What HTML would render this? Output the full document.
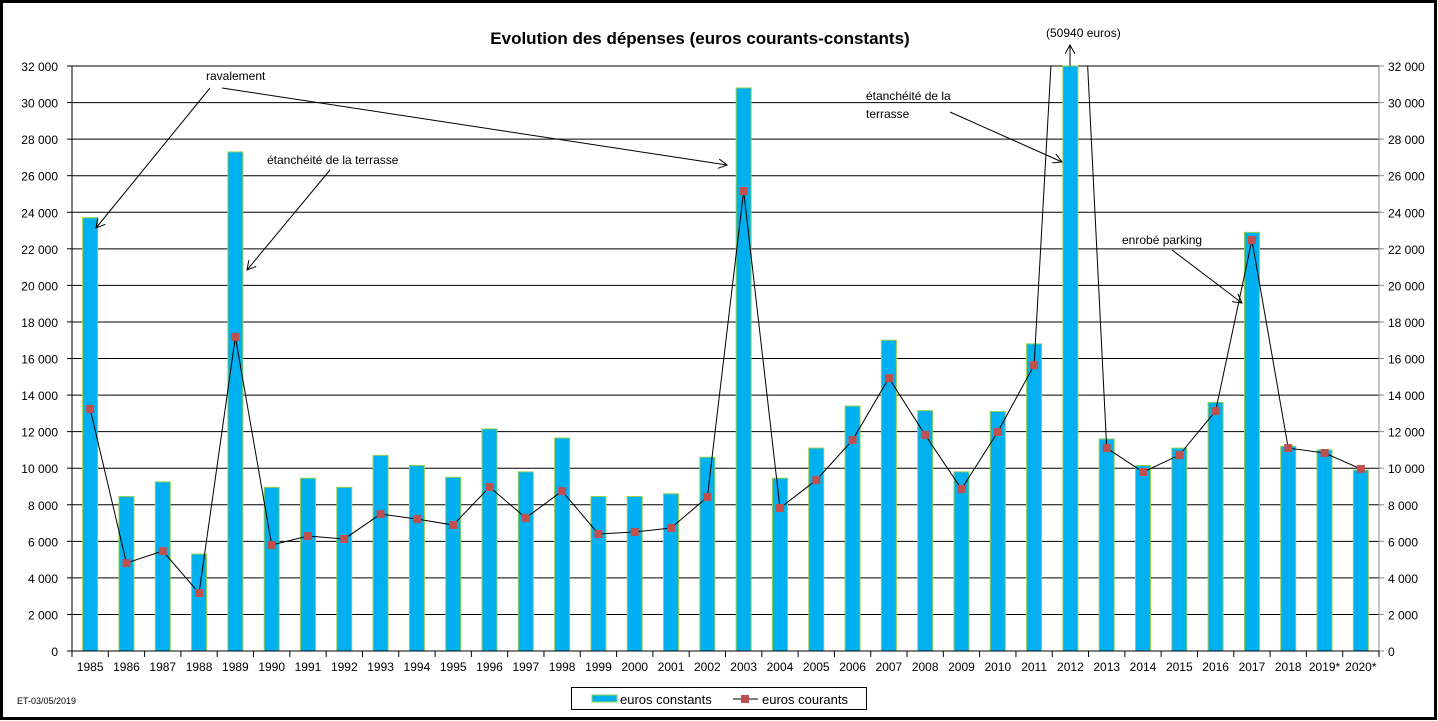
<!DOCTYPE html><html><head><meta charset="utf-8"><style>body{margin:0;background:#fff}svg{display:block;font-family:"Liberation Sans",sans-serif}</style></head><body>
<svg id="s" width="1438" height="721" xmlns="http://www.w3.org/2000/svg">
<defs><clipPath id="c"><rect x="72" y="66" width="1307" height="590"/></clipPath>
<marker id="a" markerWidth="10" markerHeight="10" refX="9" refY="5" orient="auto" markerUnits="userSpaceOnUse"><path d="M0,0 L9,5 L0,10" fill="none" stroke="#000" stroke-width="1"/></marker></defs>
<rect x="1.5" y="1.5" width="1434" height="717" fill="#fff" stroke="#000" stroke-width="3"/>
<text x="700" y="44" font-size="17" font-weight="bold" text-anchor="middle">Evolution des dépenses (euros courants-constants)</text>
<g id="g"></g>
<g font-size="12">
<text x="206" y="80">ravalement</text>
<text x="267" y="164">étanchéité de la terrasse</text>
<text x="866" y="100">étanchéité de la</text>
<text x="866" y="118">terrasse</text>
<text x="1122" y="244">enrobé parking</text>
<text x="1046" y="37">(50940 euros)</text>
</g>
<g stroke="#000" stroke-width="1" fill="none" marker-end="url(#a)">
<line x1="210" y1="88" x2="96" y2="228"/>
<line x1="222" y1="88" x2="727" y2="165"/>
<line x1="330" y1="170" x2="247" y2="270"/>
<line x1="950" y1="112" x2="1062" y2="162"/>
<line x1="1172" y1="250" x2="1242" y2="303"/>
<line x1="1070" y1="66" x2="1070" y2="45"/>
</g>
<text x="17" y="704" font-size="9">ET-03/05/2019</text>
<rect x="571.5" y="687.5" width="295" height="22" fill="#fff" stroke="#000"/>
<rect x="592" y="695" width="25" height="7" fill="#00b0f0" stroke="#92d050"/>
<text x="620" y="704" font-size="13">euros constants</text>
<line x1="733" y1="699" x2="758" y2="699" stroke="#000"/>
<rect x="741" y="695" width="8" height="8" fill="#c0504d"/>
<text x="762" y="704" font-size="13">euros courants</text>
</svg>
<script>
(function(){
var yrs=[];for(var y=1985;y<=2020;y++)yrs.push(y>=2019?y+"*":""+y);
var cst=[23700,8450,9250,5300,27300,8950,9450,8950,10700,10150,9500,12150,9800,11650,8450,8450,8600,10600,30800,9450,11100,13400,17000,13150,9800,13100,16800,32000,11600,10150,11100,13600,22900,11200,11000,9900];
var cur=[13240,4810,5470,3170,17180,5800,6290,6130,7490,7220,6890,8970,7280,8750,6400,6510,6730,8420,25160,7820,9350,11540,14930,11820,8860,11980,15640,50940,11100,9790,10720,13130,22480,11100,10830,9960];
var X0=72,X1=1379,Y0=651,Y1=66,n=36,w=(X1-X0)/n;
function Y(v){return Y0-(v/32000)*(Y0-Y1);}
var h='';
for(var i=0;i<=16;i++){var y=Y(i*2000);
 if(i>0)h+='<line x1="'+X0+'" y1="'+y+'" x2="'+X1+'" y2="'+y+'" stroke="#000"/>';
 h+='<line x1="'+(X0-5)+'" y1="'+y+'" x2="'+X0+'" y2="'+y+'" stroke="#000"/>';
 h+='<line x1="'+X1+'" y1="'+y+'" x2="'+(X1+5)+'" y2="'+y+'" stroke="#888"/>';
 var t=i==0?'0':(i*2)+' 000';
 h+='<text x="'+(X0-14)+'" y="'+(y+5)+'" font-size="12" text-anchor="end">'+t+'</text>';
 h+='<text x="'+(X1+9)+'" y="'+(y+5)+'" font-size="12">'+t+'</text>';}
for(var i=0;i<n;i++){var cx=X0+w*(i+.5),bt=Y(Math.min(cst[i],32000));
 h+='<rect x="'+(cx-7.5)+'" y="'+bt+'" width="15" height="'+(Y0-bt)+'" fill="#00b0f0" stroke="#92d050" stroke-width="1"/>';
 h+='<text x="'+cx+'" y="'+(Y0+20)+'" font-size="12" text-anchor="middle">'+yrs[i]+'</text>';}
for(var i=0;i<=n;i++){var x=X0+w*i;h+='<line x1="'+x+'" y1="'+Y0+'" x2="'+x+'" y2="'+(Y0+6)+'" stroke="#000"/>';}
h+='<line x1="'+X0+'" y1="'+Y1+'" x2="'+X0+'" y2="'+Y0+'" stroke="#000"/>';
h+='<line x1="'+X1+'" y1="'+Y1+'" x2="'+X1+'" y2="'+Y0+'" stroke="#888"/>';
h+='<line x1="'+X0+'" y1="'+Y0+'" x2="'+X1+'" y2="'+Y0+'" stroke="#000"/>';
var p='';for(var i=0;i<n;i++){p+=(X0+w*(i+.5))+','+Y(cur[i])+' ';}
h+='<polyline clip-path="url(#c)" points="'+p+'" fill="none" stroke="#000" stroke-width="1"/>';
for(var i=0;i<n;i++){if(i==27)continue;var cx=X0+w*(i+.5);h+='<rect x="'+(cx-4)+'" y="'+(Y(cur[i])-4)+'" width="8" height="8" fill="#c0504d"/>';}
document.getElementById('g').innerHTML=h;
})();
</script>
</body></html>
